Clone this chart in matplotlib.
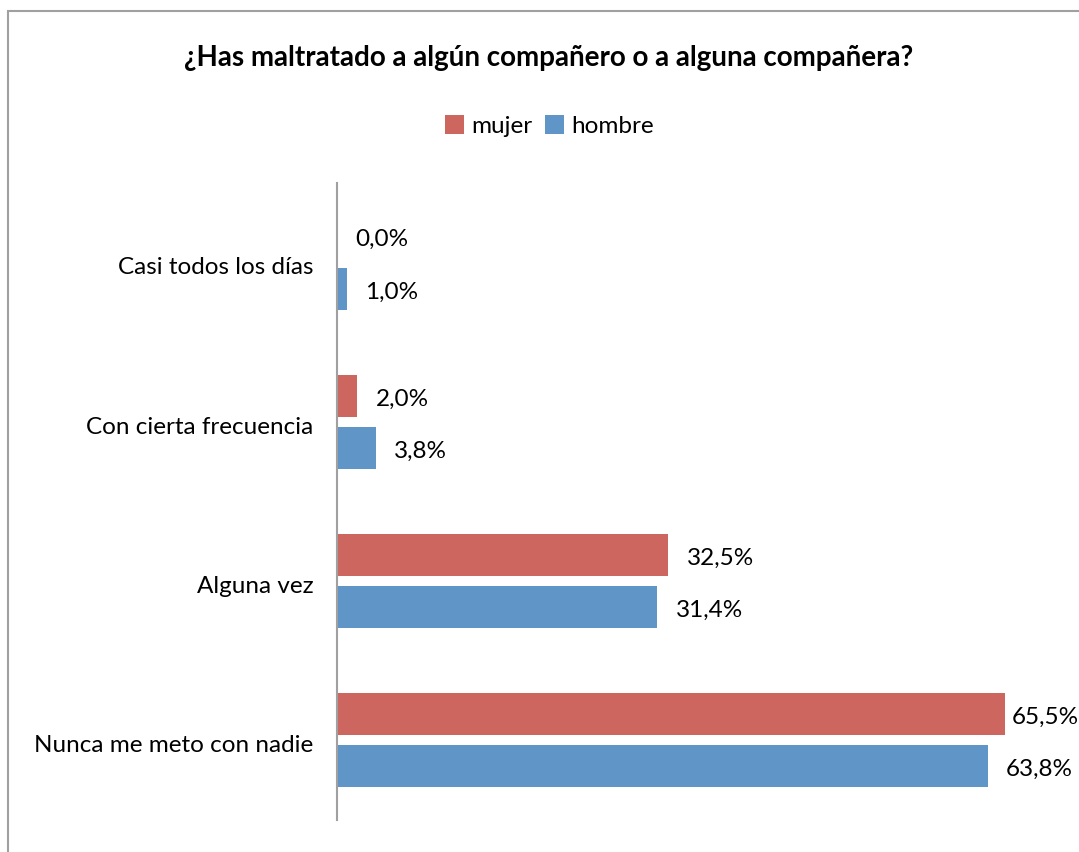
import numpy as np
import matplotlib.pyplot as plt
from matplotlib.patches import Rectangle

# Data
categorias = ["Casi todos los días", "Con cierta frecuencia", "Alguna vez", "Nunca me meto con nadie"]
mujer = [0.0, 2.0, 32.5, 65.5]
hombre = [1.0, 3.8, 31.4, 63.8]
etiquetas_mujer = ["0,0%", "2,0%", "32,5%", "65,5%"]
etiquetas_hombre = ["1,0%", "3,8%", "31,4%", "63,8%"]

plt.rcParams['font.family'] = ['Lato', 'DejaVu Sans']

fig = plt.figure(figsize=(10.79, 8.52), dpi=100)
ax = fig.add_axes([0.3123, 0.0376, 0.6617, 0.7476])

y = np.arange(len(categorias))
h = 0.264
off = 0.164
c_mujer = "#CD665F"
c_hombre = "#5F95C7"
fs = 17.5

ax.barh(y - off, mujer, height=h, color=c_mujer, label="mujer")
ax.barh(y + off, hombre, height=h, color=c_hombre, label="hombre")

# data labels, pushed inside the chart area if too far right
for i in range(len(categorias)):
    ax.text(min(mujer[i] + 1.8, 66.2), y[i] - off + 0.02, etiquetas_mujer[i],
            va="center", ha="left", fontsize=fs)
    ax.text(min(hombre[i] + 1.8, 66.2), y[i] + off + 0.02, etiquetas_hombre[i],
            va="center", ha="left", fontsize=fs)

ax.set_xlim(0, 70)
ax.set_ylim(3.5, -0.5)
ax.set_yticks(y + 0.02)
ax.set_yticklabels(categorias, fontsize=fs)
ax.tick_params(axis="y", length=0, pad=17)
ax.set_xticks([])
for s in ["top", "right", "bottom"]:
    ax.spines[s].set_visible(False)
ax.spines["left"].set_color("#A0A0A0")
ax.spines["left"].set_linewidth(1.5)

fig.text(0.508, 0.932, "¿Has maltratado a algún compañero o a alguna compañera?",
         ha="center", va="center", fontsize=20, fontweight="bold")

fig.legend(loc="center", bbox_to_anchor=(0.509, 0.852), ncol=2, frameon=False,
           fontsize=fs, handlelength=0.8, handleheight=0.8, handletextpad=0.3,
           columnspacing=0.5)

# chart frame
fig.patches.append(Rectangle((8 / 1079, -0.1), 1.2, 1 - 11 / 852 + 0.1,
                             transform=fig.transFigure, fill=False,
                             edgecolor="#A0A0A0", linewidth=1.5))

fig.savefig("out.png", dpi=100)
